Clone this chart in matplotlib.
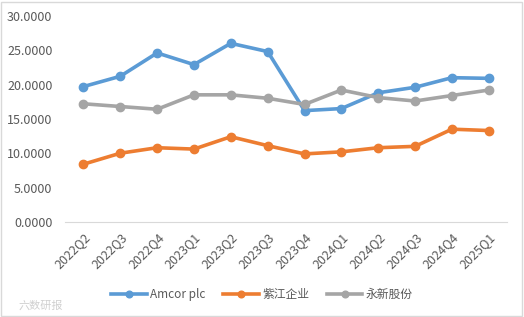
import matplotlib
matplotlib.use('Agg')
import matplotlib.pyplot as plt
from matplotlib.patches import Rectangle

plt.rcParams['font.family'] = ['Noto Sans CJK SC', 'DejaVu Sans']

quarters = ['2022Q2', '2022Q3', '2022Q4', '2023Q1', '2023Q2', '2023Q3',
            '2023Q4', '2024Q1', '2024Q2', '2024Q3', '2024Q4', '2025Q1']
amcor = [19.7, 21.2, 24.6, 22.9, 26.0, 24.8, 16.2, 16.5, 18.8, 19.6, 21.0, 20.9]
zijiang = [8.4, 10.0, 10.8, 10.6, 12.4, 11.1, 9.9, 10.2, 10.8, 11.0, 13.5, 13.3]
yongxin = [17.2, 16.8, 16.4, 18.5, 18.5, 18.0, 17.1, 19.2, 18.1, 17.6, 18.4, 19.2]
names = ['Amcor plc', '紫江企业', '永新股份']
colors = ['#5B9BD5', '#ED7D31', '#A5A5A5']
yticks = [0, 5, 10, 15, 20, 25, 30]

fig = plt.figure(figsize=(5.24, 3.17), dpi=100)
ax = fig.add_axes([0.124, 0.30, 0.844, 0.65])

x = range(len(quarters))
for vals, name, c in zip([amcor, zijiang, yongxin], names, colors):
    ax.plot(x, vals, color=c, linewidth=2.6, marker='o', markersize=6, label=name)

ax.set_xlim(-0.5, len(quarters) - 0.5)
ax.set_ylim(0, 30)
ax.set_yticks(yticks)
ax.set_yticklabels(['{:.4f}'.format(v) for v in yticks])
ax.set_xticks(list(x))
ax.set_xticklabels(quarters, rotation=45, ha='right', rotation_mode='anchor')
ax.tick_params(axis='both', length=0, labelsize=9, labelcolor='#595959')
ax.tick_params(axis='y', pad=9)
ax.tick_params(axis='x', pad=6)

for s in ['top', 'right', 'left']:
    ax.spines[s].set_visible(False)
ax.spines['bottom'].set_color('#D9D9D9')

fig.legend(loc='center', bbox_to_anchor=(0.5, 0.072), ncol=3, frameon=False,
           fontsize=8.5, labelcolor='#595959', handlelength=3, columnspacing=1.5,
           handletextpad=0.3, markerscale=0.8)

fig.text(0.035, 0.025, '六数研报', fontsize=8, color='#D0D0D0')
fig.patches.append(Rectangle((0.002, 0.003), 0.994, 0.992, transform=fig.transFigure,
                             fill=False, edgecolor='#D9D9D9', linewidth=1))

fig.savefig('out.png', dpi=100)
